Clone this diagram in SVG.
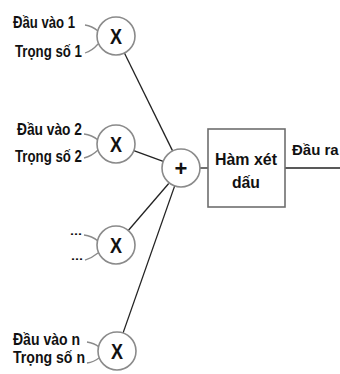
<svg xmlns="http://www.w3.org/2000/svg" width="340" height="374" viewBox="0 0 340 374">
  <style>
    .lbl { font-family: "Liberation Sans", Arial, sans-serif; font-weight: bold; font-size: 17px; fill: #111; }
    .dots { font-family: "Liberation Sans", Arial, sans-serif; font-weight: bold; font-size: 11px; fill: #111; }
    .out { font-family: "Liberation Sans", Arial, sans-serif; font-weight: bold; font-size: 15px; fill: #111; }
    .sym { font-family: "Liberation Sans", Arial, sans-serif; font-weight: bold; font-size: 22px; fill: #111; text-anchor: middle; }
    .node { fill: #fff; stroke: #8a8a8a; stroke-width: 1.6; }
    .box { fill: #fff; stroke: #6e6e6e; stroke-width: 1.6; }
    .stub { fill: none; stroke: #8a8a8a; stroke-width: 1.3; }
    .wire { fill: none; stroke: #222; stroke-width: 1.3; }
  </style>
  <rect width="340" height="374" fill="#fff"/>

  <!-- connectors -->
  <g id="connectors">
    <path class="stub" d="M85,25 Q92,26 98,31"/>
    <path class="stub" d="M85,53 Q92,51 98,44"/>
    <path class="stub" d="M84,134 Q92,135 98,140"/>
    <path class="stub" d="M84,158 Q92,156 98,150"/>
    <path class="stub" d="M84,235 Q92,236 98,241"/>
    <path class="stub" d="M85,260 Q92,258 98,253"/>
    <path class="stub" d="M87,342 Q94,343 99,347"/>
    <path class="stub" d="M87,363 Q94,362 99,358"/>
    <line class="wire" x1="124.4" y1="53" x2="172.6" y2="150.9"/>
    <line class="wire" x1="133.8" y1="150.6" x2="163.2" y2="161.4"/>
    <line class="wire" x1="128.3" y1="230.5" x2="168.7" y2="183.5"/>
    <line class="wire" x1="123" y1="333.1" x2="174.6" y2="186.1"/>
    <line class="wire" x1="200" y1="168" x2="208" y2="168"/>
    <line class="wire" x1="285" y1="168" x2="340" y2="168"/>
  </g>

  <!-- multiplier 1 -->
  <g id="mul1">
    <text class="lbl" x="13" y="28" textLength="62" lengthAdjust="spacingAndGlyphs">Đầu vào 1</text>
    <text class="lbl" x="15" y="57" textLength="67" lengthAdjust="spacingAndGlyphs">Trọng số 1</text>
    <circle class="node" cx="116" cy="36" r="19"/>
    <text class="sym" x="116" y="44" textLength="12" lengthAdjust="spacingAndGlyphs">X</text>
  </g>

  <!-- multiplier 2 -->
  <g id="mul2">
    <text class="lbl" x="17" y="135" textLength="65" lengthAdjust="spacingAndGlyphs">Đầu vào 2</text>
    <text class="lbl" x="15" y="162" textLength="67" lengthAdjust="spacingAndGlyphs">Trọng số 2</text>
    <circle class="node" cx="116" cy="144" r="19"/>
    <text class="sym" x="116" y="152" textLength="12" lengthAdjust="spacingAndGlyphs">X</text>
  </g>

  <!-- multiplier 3 -->
  <g id="mul3">
    <text class="dots" x="70" y="235" textLength="12" lengthAdjust="spacingAndGlyphs">...</text>
    <text class="dots" x="71" y="260" textLength="12" lengthAdjust="spacingAndGlyphs">...</text>
    <circle class="node" cx="116" cy="245" r="19"/>
    <text class="sym" x="116" y="253" textLength="12" lengthAdjust="spacingAndGlyphs">X</text>
  </g>

  <!-- multiplier n -->
  <g id="muln">
    <text class="lbl" x="13" y="345" textLength="67" lengthAdjust="spacingAndGlyphs">Đầu vào n</text>
    <text class="lbl" x="13" y="363" textLength="72" lengthAdjust="spacingAndGlyphs">Trọng số n</text>
    <circle class="node" cx="117" cy="351" r="19"/>
    <text class="sym" x="117" y="359" textLength="12" lengthAdjust="spacingAndGlyphs">X</text>
  </g>

  <!-- summation -->
  <g id="sum">
    <circle class="node" cx="181" cy="168" r="19"/>
    <text class="sym" x="181" y="176">+</text>
  </g>

  <!-- sign function -->
  <g id="sign">
    <rect class="box" x="208" y="129" width="77" height="78"/>
    <text class="lbl" x="215" y="165" textLength="62" lengthAdjust="spacingAndGlyphs">Hàm xét</text>
    <text class="lbl" x="232" y="188" textLength="28" lengthAdjust="spacingAndGlyphs">dấu</text>
  </g>

  <!-- output -->
  <g id="output">
    <text class="out" x="292" y="155">Đầu ra</text>
  </g>
</svg>
